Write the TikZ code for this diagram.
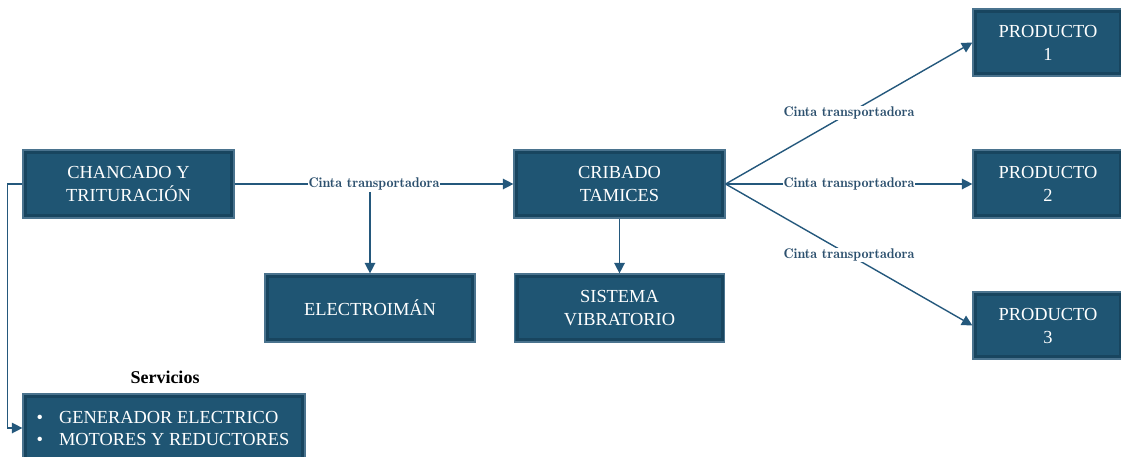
\documentclass[tikz,border=0pt]{standalone}
\usepackage{fontspec}
\setmainfont{Liberation Serif}
\newfontfamily\labfont{lmromandemi10-regular.otf}
\usetikzlibrary{arrows.meta,calc}
\definecolor{boxfill}{RGB}{31,85,115}
\definecolor{boxedge}{RGB}{74,115,142}
\definecolor{boxdark}{RGB}{16,50,72}
\definecolor{linec}{RGB}{36,88,124}
\definecolor{labc}{RGB}{44,80,110}
\begin{document}
\begin{tikzpicture}[x=1pt,y=-1pt,
  box/.style={draw=boxedge, line width=1.2pt, fill=boxfill, text=white,
    font=\fontsize{18.4}{23}\selectfont, align=center, inner sep=0pt,
    path picture={\draw[boxdark, line width=3pt, opacity=0.45]
      ([xshift=2.5pt,yshift=-2.5pt]path picture bounding box.north west) rectangle
      ([xshift=-2.5pt,yshift=2.5pt]path picture bounding box.south east);}},
  conn/.style={draw=linec, line width=1.4pt, -{Triangle[length=10.5pt,width=10.5pt]}},
  lab/.style={fill=white, text=labc, font=\labfont\fontsize{14}{16}\selectfont, inner sep=1pt}]
\useasboundingbox (0,0) rectangle (1121,456);
\clip (0,0) rectangle (1121,456);

\node[box, minimum width=211pt, minimum height=68pt] (ch) at (128.5,184) {CHANCADO Y\\TRITURACIÓN};
\node[box, minimum width=211pt, minimum height=68pt] (cri) at (619.5,184) {CRIBADO\\TAMICES};
\node[box, minimum width=210pt, minimum height=68pt] (elec) at (370,308) {ELECTROIMÁN};
\node[box, minimum width=210pt, minimum height=68pt] (sis) at (619.5,308) {SISTEMA\\VIBRATORIO};
\node[box, minimum width=150pt, minimum height=67pt] (p1) at (1048,42.5) {PRODUCTO\\1};
\node[box, minimum width=150pt, minimum height=68pt] (p2) at (1048,184) {PRODUCTO\\2};
\node[box, minimum width=150pt, minimum height=67pt] (p3) at (1048,325.5) {PRODUCTO\\3};
\node[box, minimum width=282pt, minimum height=68pt] (serv) at (164,428) {};
\node[anchor=west, text=white, align=left, inner sep=0pt, font=\fontsize{18.4}{22}\selectfont]
  (servtxt) at ([xshift=14pt]serv.west)
  {\textbullet\hspace{16pt}GENERADOR ELECTRICO\\\textbullet\hspace{16pt}MOTORES Y REDUCTORES};
\node[font=\bfseries\fontsize{18}{20}\selectfont] (st) at (165,377) {Servicios};

\draw[conn] (ch.east) -- node[lab] (l1) {Cinta transportadora} (cri.west);
\draw[conn] (l1.south -| elec.north) -- (elec.north);
\draw[conn] (cri.south) -- (sis.north);
\draw[conn] (cri.east) -- node[lab] {Cinta transportadora} (p1.west);
\draw[conn] (cri.east) -- node[lab] {Cinta transportadora} (p2.west);
\draw[conn] (cri.east) -- node[lab] {Cinta transportadora} (p3.west);
\draw[conn] (ch.west) -- ++(-15,0) |- (serv.west);
\end{tikzpicture}
\end{document}
